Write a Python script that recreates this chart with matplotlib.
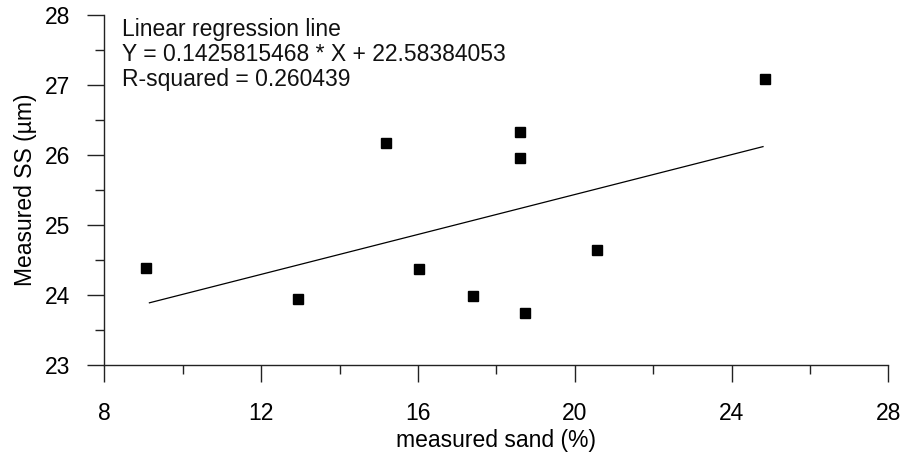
import matplotlib.pyplot as plt
import numpy as np
from matplotlib.ticker import MultipleLocator

plt.rcParams['font.family'] = ['Liberation Sans', 'DejaVu Sans']

sand = [9.06, 12.94, 15.19, 16.03, 17.41, 18.6, 18.6, 18.73, 20.56, 24.85]
ss = [24.39, 23.94, 26.17, 24.37, 23.99, 26.33, 25.96, 23.74, 24.64, 27.09]

slope = 0.1425815468
intercept = 22.58384053
r2 = 0.260439

fs = 16.5

fig = plt.figure(figsize=(9.01, 4.59), dpi=100)
ax = fig.add_axes([0.1158, 0.2048, 0.8703, 0.7625])

ax.plot(sand, ss, 's', color='black', markersize=7)

# regression line across the range of x
xl = np.array([min(sand) + 0.09, max(sand) - 0.05])
ax.plot(xl, slope * xl + intercept, color='black', linewidth=0.9)

ax.set_xlim(8, 28)
ax.set_ylim(23, 28)
ax.xaxis.set_major_locator(MultipleLocator(4))
ax.xaxis.set_minor_locator(MultipleLocator(2))
ax.yaxis.set_major_locator(MultipleLocator(1))
ax.yaxis.set_minor_locator(MultipleLocator(0.5))

for s in ['top', 'right']:
  ax.spines[s].set_visible(False)
for s in ['left', 'bottom']:
  ax.spines[s].set_linewidth(1.0)
  ax.spines[s].set_color('#222222')

ax.tick_params(which='major', direction='out', length=12.5, width=1.0, color='#222222', labelsize=fs)
ax.tick_params(which='minor', direction='out', length=6.5, width=1.0, color='#222222')
ax.tick_params(axis='x', which='major', pad=14)
ax.tick_params(axis='y', which='major', pad=12)

ax.set_xlabel('measured sand (%)', fontsize=fs, labelpad=3)
ax.set_ylabel('Measured SS (\u00b5m)', fontsize=fs, labelpad=6)

lines = ['Linear regression line',
         'Y = ' + str(slope) + ' * X + ' + str(intercept),
         'R-squared = ' + str(r2)]
ypos = [27.70, 27.343, 26.986]
for t, yy in zip(lines, ypos):
  ax.text(8.45, yy, t, fontsize=fs, va='baseline', ha='left', color='#111111')

fig.savefig('out.png', dpi=100)
